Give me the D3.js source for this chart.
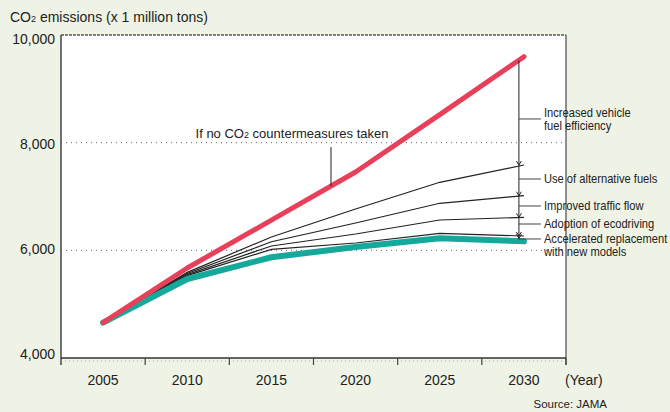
<!DOCTYPE html>
<html>
<head>
<meta charset="utf-8">
<script src="https://cdn.jsdelivr.net/npm/d3@7"></script>
<style>
  body { margin: 0; background: #eef3e5; }
  svg { font-family: "Liberation Sans", Arial, sans-serif; }
</style>
</head>
<body>
<div id="chart"></div>
<script>
// data
const years = [2005, 2010, 2015, 2020, 2025, 2030];
const noMeasures = [4656, 5672, 6560, 7455, 8520, 9597];
const altFuels = [4656, 5590, 6248, 6768, 7264, 7585];
const trafficFlow = [4656, 5570, 6160, 6508, 6874, 7015];
const ecodriving = [4656, 5550, 6080, 6303, 6563, 6614];
const replacement = [4656, 5530, 6019, 6136, 6316, 6266];
const withAll = [4656, 5468, 5871, 6062, 6224, 6168];
const yTicks = [4000, 6000, 8000, 10000];
const measureLabels = [
    { lines: ["Increased vehicle", "fuel efficiency"], value: 8440, centered: true },
    { lines: ["Use of alternative fuels"], value: 7325 },
    { lines: ["Improved traffic flow"], value: 6824 },
    { lines: ["Adoption of ecodriving"], value: 6489 },
    { lines: ["Accelerated replacement", "with new models"], value: 6211 }
];

const W = 670, H = 412;
const margin = { top: 35, right: 104, bottom: 54, left: 61 };

const svg = d3.select("#chart")
    .append("svg")
    .attr("width", W)
    .attr("height", H);

const x = d3.scalePoint()
    .domain(years)
    .range([margin.left, W - margin.right])
    .padding(0.5);

const y = d3.scaleLinear()
    .domain([4000, 10000])
    .range([H - margin.bottom, margin.top]);

const step = x.step();
const x0 = margin.left, x1 = W - margin.right;

// white plot area
svg.append("rect")
    .attr("x", x0)
    .attr("y", y(10000))
    .attr("width", x1 - x0)
    .attr("height", y(4000) - y(10000))
    .attr("fill", "#fff");

// dotted grid
svg.selectAll(".grid")
    .data([6000, 8000])
    .enter()
    .append("line")
    .attr("x1", x0)
    .attr("x2", x1)
    .attr("y1", d => y(d))
    .attr("y2", d => y(d))
    .attr("stroke", "#666")
    .attr("stroke-width", 1)
    .attr("stroke-dasharray", "1,4");

// top border, dashed
svg.append("line")
    .attr("x1", x0).attr("x2", x1)
    .attr("y1", y(10000)).attr("y2", y(10000))
    .attr("stroke", "#555")
    .attr("stroke-width", 1.5)
    .attr("stroke-dasharray", "3,1");

// right border
svg.append("line")
    .attr("x1", x1).attr("x2", x1)
    .attr("y1", y(10000)).attr("y2", y(4000) + 7)
    .attr("stroke", "#555")
    .attr("stroke-width", 1.3);

// left axis line
svg.append("line")
    .attr("x1", x0).attr("x2", x0)
    .attr("y1", y(10000)).attr("y2", y(4000) + 7)
    .attr("stroke", "#444")
    .attr("stroke-width", 1.5);

// bottom axis
svg.append("line")
    .attr("x1", x0).attr("x2", x1)
    .attr("y1", y(4000)).attr("y2", y(4000))
    .attr("stroke", "#333")
    .attr("stroke-width", 1.5);
svg.append("line")
    .attr("x1", x0).attr("x2", x1)
    .attr("y1", y(4000) + 3).attr("y2", y(4000) + 3)
    .attr("stroke", "#999")
    .attr("stroke-width", 0.8)
    .attr("stroke-dasharray", "1,3");

svg.selectAll(".xtick")
    .data(years)
    .enter()
    .append("line")
    .attr("x1", d => x(d) + step / 2)
    .attr("x2", d => x(d) + step / 2)
    .attr("y1", y(4000))
    .attr("y2", y(4000) + 7)
    .attr("stroke", "#444")
    .attr("stroke-width", 1.2);

svg.selectAll(".xlabel")
    .data(years)
    .enter()
    .append("text")
    .attr("x", d => x(d))
    .attr("y", y(4000) + 27)
    .attr("text-anchor", "middle")
    .style("font-size", "14px")
    .attr("fill", "#222")
    .text(d => d);

svg.append("text")
    .attr("x", x1 - 1)
    .attr("y", y(4000) + 27)
    .style("font-size", "14px")
    .attr("fill", "#222")
    .text("(Year)");

// labels sit a little off the gridlines in the original
svg.selectAll(".ylabel")
    .data(yTicks)
    .enter()
    .append("text")
    .attr("x", x0 - 6)
    .attr("y", d => y(d) + 5 + (d - 7000) / 3000 * 4)
    .attr("text-anchor", "end")
    .style("font-size", "14px")
    .attr("fill", "#222")
    .text(d3.format(","));

// y title with subscript
const title = svg.append("text")
    .attr("x", 10)
    .attr("y", 22)
    .style("font-size", "14px")
    .attr("fill", "#222");
title.append("tspan").text("CO");
title.append("tspan").style("font-size", "9px").text("2");
title.append("tspan").text(" emissions (x 1 million tons)");

const line = d3.line()
    .x((d, i) => x(years[i]))
    .y(d => y(d));

// measure lines
[altFuels, trafficFlow, ecodriving, replacement].forEach(s => {
    svg.append("path")
        .datum(s)
        .attr("d", line)
        .attr("fill", "none")
        .attr("stroke", "#222")
        .attr("stroke-width", 1.2);
});

svg.append("path")
    .datum(withAll)
    .attr("d", line)
    .attr("fill", "none")
    .attr("stroke", "#14a99a")
    .attr("stroke-width", 6)
    .attr("stroke-linecap", "round")
    .attr("stroke-linejoin", "round");

svg.append("path")
    .datum(noMeasures)
    .attr("d", line)
    .attr("fill", "none")
    .attr("stroke", "#e8405a")
    .attr("stroke-width", 5)
    .attr("stroke-linecap", "round")
    .attr("stroke-linejoin", "round");

// red line annotation
const t = svg.append("text")
    .attr("x", 292)
    .attr("y", 138)
    .attr("text-anchor", "middle")
    .style("font-size", "13px")
    .attr("fill", "#222");
t.append("tspan").text("If no CO");
t.append("tspan").style("font-size", "9px").text("2");
t.append("tspan").text(" countermeasures taken");

const leadX = 331;
// red value at leadX, between 2015 and 2020
const f = (leadX - x(2015)) / step;
const redAtLead = noMeasures[2] + f * (noMeasures[3] - noMeasures[2]);
svg.append("line")
    .attr("x1", leadX).attr("x2", leadX)
    .attr("y1", 147).attr("y2", y(redAtLead))
    .attr("stroke", "#222")
    .attr("stroke-width", 1);

// bracket on the right
const bx = x(2030) - 5;
const last = [noMeasures, altFuels, trafficFlow, ecodriving, replacement, withAll].map(s => s[5]);
svg.append("line")
    .attr("x1", bx).attr("x2", bx)
    .attr("y1", y(last[0]) + 4)
    .attr("y2", y(last[5]) - 2)
    .attr("stroke", "#222")
    .attr("stroke-width", 1);

last.slice(1).forEach(v => {
    const yy = y(v) - (v === last[5] ? 3 : 0);
    svg.append("path")
        .attr("d", `M${bx - 2.5},${yy - 4}L${bx},${yy}L${bx + 2.5},${yy - 4}`)
        .attr("fill", "none")
        .attr("stroke", "#222")
        .attr("stroke-width", 1);
});

measureLabels.forEach(m => {
    const yy = y(m.value);
    svg.append("line")
        .attr("x1", bx).attr("x2", bx + 22)
        .attr("y1", yy).attr("y2", yy)
        .attr("stroke", "#444")
        .attr("stroke-width", 1);
    const ty = m.centered ? yy - 2 : yy + 4;
    const tx = svg.append("text")
        .attr("transform", `translate(${bx + 25},${ty}) scale(0.93,1)`)
        .style("font-size", "12px")
        .attr("fill", "#222");
    m.lines.forEach((l, i) => {
        tx.append("tspan")
            .attr("x", 0)
            .attr("dy", i === 0 ? 0 : 13.5)
            .text(l);
    });
});

svg.append("text")
    .attr("x", 607)
    .attr("y", 408)
    .attr("text-anchor", "end")
    .style("font-size", "11.5px")
    .attr("fill", "#222")
    .text("Source: JAMA");
</script>
</body>
</html>
